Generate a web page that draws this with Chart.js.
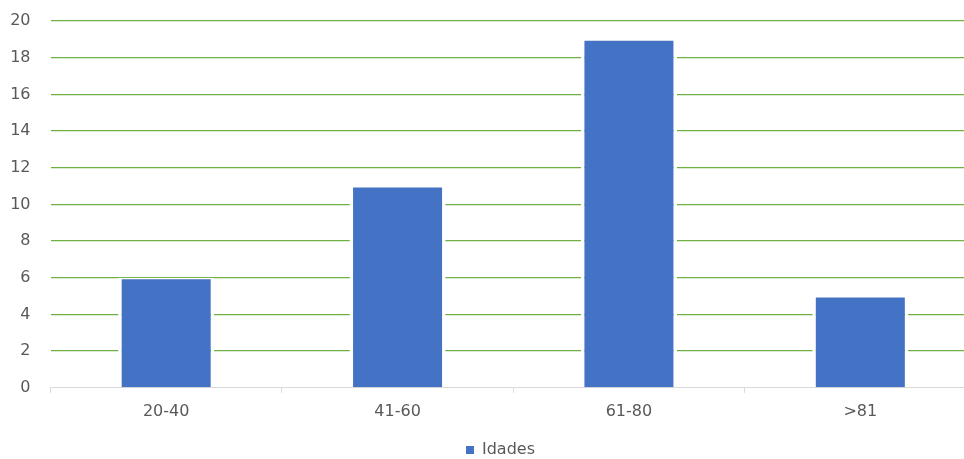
<!DOCTYPE html>
<html>
<head>
<meta charset="utf-8">
<script src="https://cdn.jsdelivr.net/npm/chart.js@4.4.1/dist/chart.umd.min.js"></script>
<style>
  html, body { margin: 0; padding: 0; background: #fff; overflow: hidden; }
  #wrap { position: relative; width: 976px; height: 459px; }
</style>
</head>
<body>
<div id="wrap"><canvas id="c"></canvas></div>
<script>
const categories = ['20-40', '41-60', '61-80', '>81'];
const seriesName = 'Idades';
const seriesValues = [6, 11, 19, 5];
const yTicks = [0, 2, 4, 6, 8, 10, 12, 14, 16, 18, 20];

const legendShift = {
  id: 'legendShift',
  afterLayout(chart) {
    const lg = chart.legend;
    if (lg) { lg.left += 8; lg.right += 8; lg.top += 9; lg.bottom += 9; }
  }
};

new Chart(document.getElementById('c'), {
  type: 'bar',
  data: {
    labels: categories,
    datasets: [{
      label: seriesName,
      data: seriesValues,
      backgroundColor: '#4472C4',
      borderColor: '#FFFFFF',
      borderWidth: { top: 1.5, left: 3.5, right: 3.5, bottom: 0 },
      borderSkipped: false,
      categoryPercentage: 1,
      barPercentage: 0.415
    }]
  },
  options: {
    responsive: true,
    maintainAspectRatio: false,
    animation: false,
    layout: { padding: { left: 9, right: 0, top: 21, bottom: 0 } },
    plugins: {
      legend: {
        position: 'bottom',
        labels: {
          color: '#595959',
          font: { family: 'DejaVu Sans', size: 16 },
          boxWidth: 8,
          boxHeight: 8,
          padding: 0,
          generateLabels(chart) {
            const items = Chart.defaults.plugins.legend.labels.generateLabels(chart);
            items.forEach(it => { it.lineWidth = 0; it.strokeStyle = it.fillStyle; });
            return items;
          }
        }
      },
      tooltip: { enabled: false }
    },
    scales: {
      x: {
        offset: true,
        afterFit(axis) { axis.height += 3; },
        grid: { display: true, drawOnChartArea: false, color: '#D9D9D9', tickLength: 5, offset: true },
        border: { display: true, color: '#D9D9D9', width: 1 },
        ticks: { color: '#595959', font: { family: 'DejaVu Sans', size: 16 }, padding: 9 }
      },
      y: {
        min: 0,
        max: 20,
        afterBuildTicks(axis) { axis.ticks = yTicks.map(v => ({ value: v })); },
        afterFit(axis) { axis.width = 41.5; axis.paddingTop = 0; axis.paddingBottom = 0; },
        grid: {
          color: ctx => (ctx.tick && ctx.tick.value === 0) ? 'rgba(0,0,0,0)' : '#6FB142',
          lineWidth: 1.3,
          drawTicks: false
        },
        border: { display: false },
        ticks: { color: '#595959', font: { family: 'DejaVu Sans', size: 16 }, padding: 20 }
      }
    }
  },
  plugins: [legendShift]
});
</script>
</body>
</html>
